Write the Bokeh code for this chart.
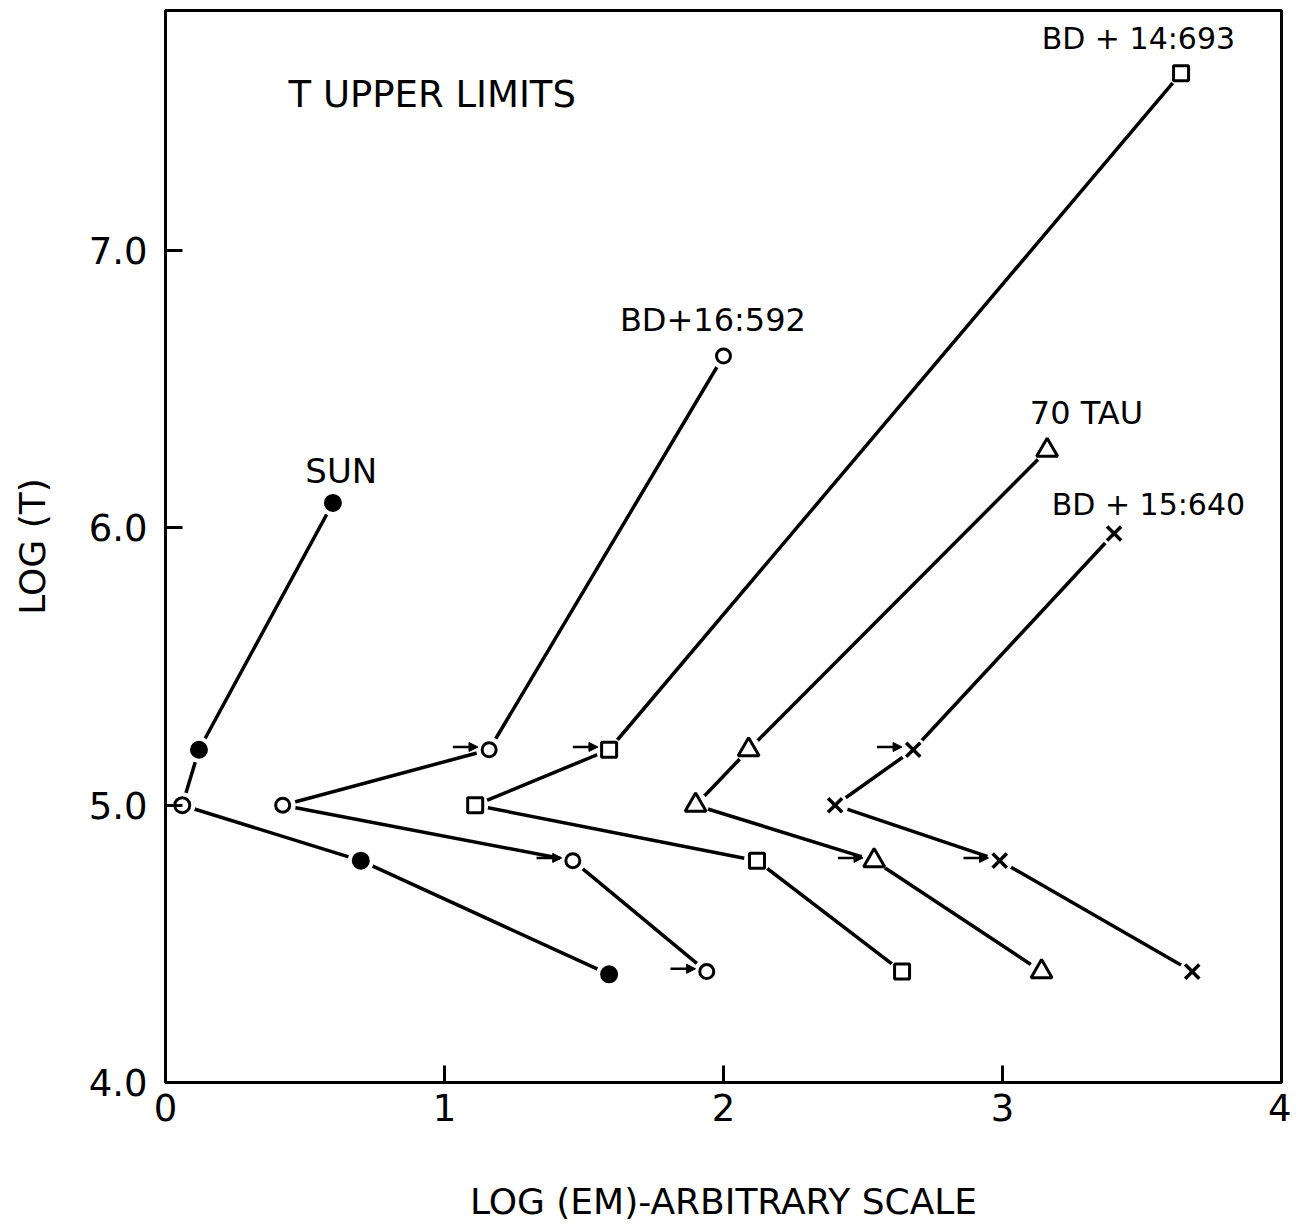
from bokeh.plotting import figure
from bokeh.models import (Range1d, FixedTicker, Label, Arrow, NormalHead,
                          ColumnDataSource, PrintfTickFormatter)
from bokeh.embed import file_html
from bokeh.resources import INLINE

FONT = "DejaVu Sans"

# ---- data (each series: top point, 5.2 knee, 5.0 vertex, 4.8 point, 4.4 point) ----
series_names = ["SUN", "BD+16:592", "BD+14:693", "70 TAU", "BD+15:640"]

sun_x = [0.60, 0.12, 0.06, 0.70, 1.59]
sun_y = [6.09, 5.20, 5.00, 4.80, 4.39]

bd16_x = [2.00, 1.16, 0.42, 1.46, 1.94]
bd16_y = [6.62, 5.20, 5.00, 4.80, 4.40]

bd14_x = [3.64, 1.59, 1.11, 2.12, 2.64]
bd14_y = [7.64, 5.20, 5.00, 4.80, 4.40]

tau70_x = [3.16, 2.09, 1.90, 2.54, 3.14]
tau70_y = [6.28, 5.20, 5.00, 4.80, 4.40]

bd15_x = [3.40, 2.68, 2.40, 2.99, 3.68]
bd15_y = [5.98, 5.20, 5.00, 4.80, 4.40]

# which points carry a small "upper limit" arrow
sun_arrow = [False, False, False, False, False]
bd16_arrow = [False, True, False, True, True]
bd14_arrow = [False, True, False, False, False]
tau70_arrow = [False, False, False, True, False]
bd15_arrow = [False, True, False, True, False]

# star labels
label_text = ["SUN", "BD+16:592", "BD + 14:693", "70 TAU", "BD + 15:640"]
label_x = [0.63, 1.962, 3.487, 3.301, 3.523]
label_y = [6.205, 6.750, 7.766, 6.414, 6.086]
label_size = ["34px", "32px", "30px", "32px", "30px"]

x_ticks = [0, 1, 2, 3, 4]
y_ticks = [4, 5, 6, 7]

# ---- figure ----
p = figure(frame_width=1116, frame_height=1072,
           x_range=Range1d(0, 4), y_range=Range1d(4, 7.866),
           output_backend="svg", toolbar_location=None,
           min_border_left=165, min_border_top=10, min_border_right=10,
           min_border_bottom=141)
p.background_fill_color = "white"
p.border_fill_color = "white"
p.grid.visible = False
p.outline_line_color = "black"
p.outline_line_width = 3

for ax in (p.xaxis[0], p.yaxis[0]):
    ax.axis_line_width = 3
    ax.axis_line_color = "black"
    ax.major_tick_in = 17
    ax.major_tick_out = 0
    ax.major_tick_line_width = 3
    ax.major_tick_line_color = "black"
    ax.minor_tick_line_color = None
    ax.major_label_text_font = FONT
    ax.major_label_text_font_size = "37px"
    ax.major_label_text_color = "black"
    ax.axis_label_text_font = FONT
    ax.axis_label_text_font_size = "36px"
    ax.axis_label_text_font_style = "normal"
    ax.axis_label_text_color = "black"

p.xaxis.ticker = FixedTicker(ticks=x_ticks)
p.yaxis.ticker = FixedTicker(ticks=y_ticks)
p.yaxis.formatter = PrintfTickFormatter(format="%.1f")
p.xaxis.formatter = PrintfTickFormatter(format="%d")
p.yaxis.major_label_standoff = 18
p.xaxis.major_label_standoff = 11

p.xaxis.axis_label = "LOG (EM)-ARBITRARY SCALE"
p.xaxis.axis_label_standoff = 57
p.yaxis.axis_label = "LOG (T)"
p.yaxis.axis_label_standoff = 33

all_series = [
    (sun_x, sun_y, sun_arrow),
    (bd16_x, bd16_y, bd16_arrow),
    (bd14_x, bd14_y, bd14_arrow),
    (tau70_x, tau70_y, tau70_arrow),
    (bd15_x, bd15_y, bd15_arrow),
]

# connecting lines
for xs, ys, _ in all_series:
    p.line(xs, ys, line_color="black", line_width=3.5)

# white halos to leave small gaps between lines and markers
for xs, ys, _ in all_series:
    p.scatter(xs, ys, marker="circle", size=26, fill_color="white",
              line_color=None)

# markers
sun_fill = ["black", "black", "white", "black", "black"]
p.scatter(sun_x, sun_y, marker="circle", size=15, fill_color=sun_fill,
          line_color="black", line_width=3)
p.scatter(bd16_x, bd16_y, marker="circle", size=14, fill_color="white",
          line_color="black", line_width=3)
p.scatter(bd14_x, bd14_y, marker="square", size=15, fill_color="white",
          line_color="black", line_width=3)
p.scatter(tau70_x, tau70_y, marker="triangle", size=21, fill_color="white",
          line_color="black", line_width=3)
p.scatter(bd15_x, bd15_y, marker="x", size=20, line_color="black",
          line_width=3.5)

# upper-limit arrows (pointing right into the marker)
ax_s, ay_s, ax_e, ay_e = [], [], [], []
for xs, ys, flags in all_series:
    for xv, yv, f in zip(xs, ys, flags):
        if f:
            ax_s.append(xv - 0.13)
            ax_e.append(xv - 0.04)
            ay_s.append(yv + 0.01)
            ay_e.append(yv + 0.01)
arrow_src = ColumnDataSource(dict(xs=ax_s, ys=ay_s, xe=ax_e, ye=ay_e))
p.add_layout(Arrow(end=NormalHead(size=9, fill_color="black",
                                  line_color="black", line_width=1),
                   x_start="xs", y_start="ys", x_end="xe", y_end="ye",
                   source=arrow_src, line_width=2.5, line_color="black"))

# star labels
for t, lx, ly, fs in zip(label_text, label_x, label_y, label_size):
    p.add_layout(Label(x=lx, y=ly, text=t, text_align="center",
                       text_baseline="middle", text_font=FONT,
                       text_font_size=fs, text_color="black"))

p.add_layout(Label(x=0.441, y=7.564, text="T UPPER LIMITS", text_align="left",
                   text_baseline="middle", text_font=FONT,
                   text_font_size="37px", text_color="black"))

open("out.html", "w").write(file_html(p, INLINE))
